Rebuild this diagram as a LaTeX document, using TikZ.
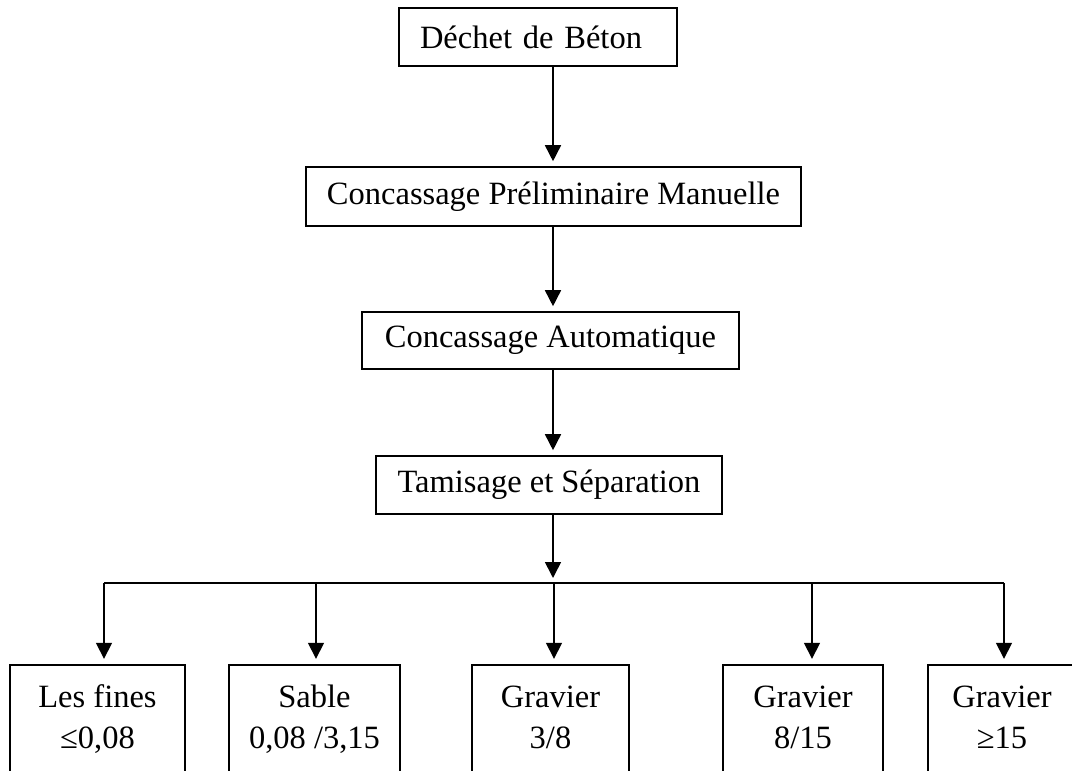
\documentclass[tikz,border=0pt]{standalone}
\usepackage{fontspec}
\setmainfont{Liberation Serif}
\usetikzlibrary{arrows.meta}
\begin{document}
\begin{tikzpicture}[x=1pt,y=-1pt,
  every node/.style={font=\fontsize{32.5}{41}\selectfont},
  box/.style={draw, line width=1.6pt, inner sep=0pt, align=center},
  leaf/.style={inner sep=0pt, align=center, minimum height=110pt},
  link/.style={line width=1.6pt},
  arr/.style={line width=1.6pt, -{Triangle[length=16pt,width=16pt]}}]
\useasboundingbox (0,0) rectangle (1072,771);
\clip (0,0) rectangle (1072,771);
\node[box, minimum width=278pt, minimum height=58pt, text width=236pt, align=left, inner xsep=21pt] (b1) at (538,37) {Déchet de Béton};
\node[box, minimum width=495pt, minimum height=59pt] (b2) at (553.5,196.5) {Concassage Préliminaire Manuelle};
\node[box, minimum width=377pt, minimum height=57pt] (b3) at (550.5,340.5) {Concassage Automatique};
\node[box, minimum width=346pt, minimum height=58pt] (b4) at (549,485) {Tamisage et Séparation};
\coordinate (col) at (553,0);
\draw[arr, shorten >=5pt] (b1.south -| col) -- (b2.north -| col);
\draw[arr, shorten >=5pt] (b2.south -| col) -- (b3.north -| col);
\draw[arr, shorten >=5pt] (b3.south -| col) -- (b4.north -| col);
% leaves
\node[leaf, minimum width=175pt] (l1) at (97.5,720) {\strut Les fines\\\strut ≤0,08};
\node[leaf, minimum width=171pt] (l2) at (314.5,720) {\strut Sable\\\strut 0,08 /3,15};
\node[leaf, minimum width=157pt] (l3) at (550.5,720) {\strut Gravier\\\strut 3/8};
\node[leaf, minimum width=160pt] (l4) at (803,720) {\strut Gravier\\\strut 8/15};
\node[leaf, minimum width=148pt] (l5) at (1002,720) {\strut Gravier\\\strut ≥15};
\foreach \n in {l1,l2,l3,l4}{
  \draw[link] ([yshift=-30pt]\n.south west) -- (\n.north west) -- (\n.north east) -- ([yshift=-30pt]\n.south east);
}
\draw[link] ([yshift=-30pt]l5.south west) -- (l5.north west) -- ([xshift=30pt]l5.north east);
% bus
\coordinate (d1) at (104,583);
\coordinate (d2) at (316,583);
\coordinate (d3) at (554,583);
\coordinate (d4) at (812,583);
\coordinate (d5) at (1004,583);
\draw[arr, shorten >=5pt] (b4.south -| col) -- (d3 -| col);
\draw[link] (d1) -- (d5);
\draw[arr, shorten >=6pt] (d1) -- (d1 |- l1.north);
\draw[arr, shorten >=6pt] (d2) -- (d2 |- l2.north);
\draw[arr, shorten >=6pt] (d3) -- (d3 |- l3.north);
\draw[arr, shorten >=6pt] (d4) -- (d4 |- l4.north);
\draw[arr, shorten >=6pt] (d5) -- (d5 |- l5.north);
\end{tikzpicture}
\end{document}
